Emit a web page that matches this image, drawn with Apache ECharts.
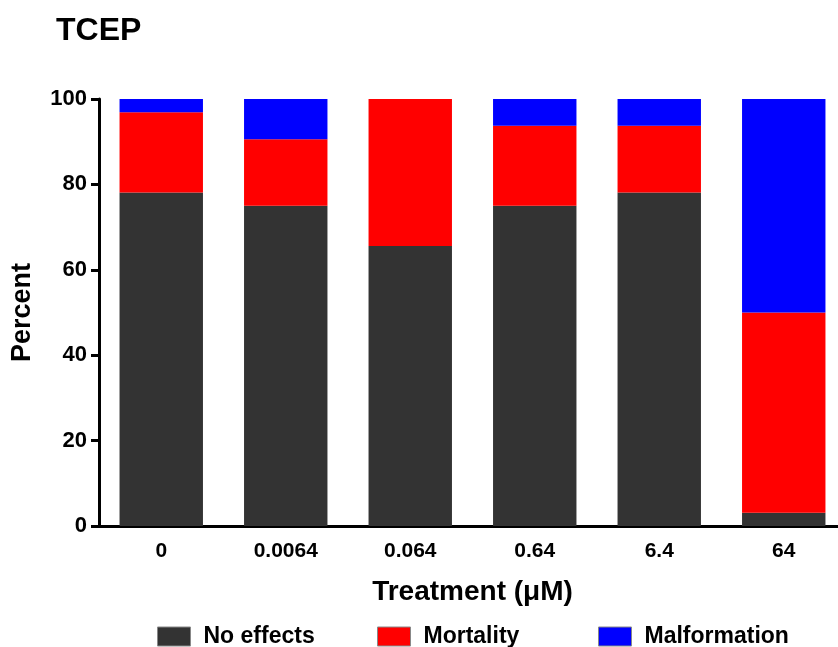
<!DOCTYPE html>
<html>
<head>
<meta charset="utf-8">
<script src="https://cdn.jsdelivr.net/npm/echarts@6/dist/echarts.min.js"></script>
<style>
  html, body { margin: 0; padding: 0; background: #fff; }
  #chart { width: 838px; height: 647px; }
</style>
</head>
<body>
<div id="chart"></div>
<script>
// treatment concentrations (µM)
const treatments = ['0', '0.0064', '0.064', '0.64', '6.4', '64'];
// percent of embryos per outcome
const noEffects = [78.1, 75.0, 65.6, 75.0, 78.1, 3.1];
const mortality = [18.8, 15.6, 34.4, 18.75, 15.65, 46.9];
const malformation = [3.1, 9.4, 0, 6.25, 6.25, 50.0];
const yTicks = [0, 20, 40, 60, 80, 100];
const legendNames = ['No effects', 'Mortality', 'Malformation'];

const chart = echarts.init(document.getElementById('chart'));
const font = 'Liberation Sans, Arial, sans-serif';

const barSeries = (name, data, color) => ({
  name: name, type: 'bar', stack: 'total', data: data,
  barWidth: '67%',
  itemStyle: { color: color },
  emphasis: { disabled: true }
});

// one legend block per item so each sits where the original has it
const legendLeft = [157, 377, 598];
const legends = legendNames.map((n, i) => ({
  left: legendLeft[i], top: 625, padding: 0,
  icon: 'rect', itemWidth: 33, itemHeight: 19,
  textStyle: { fontFamily: font, fontWeight: 'bold', fontSize: 23, color: '#000', padding: [0, 0, 0, 8] },
  data: [{ name: n, itemStyle: { borderColor: '#888', borderWidth: 1 } }]
}));

const option = {
  backgroundColor: '#ffffff',
  animation: false,
  title: {
    text: 'TCEP', left: 51, top: 10,
    textStyle: { fontFamily: font, fontWeight: 'bold', fontSize: 32, color: '#000' }
  },
  legend: legends,
  grid: { left: 99, right: -8, top: 99, bottom: 121, outerBoundsMode: 'none' },
  xAxis: {
    type: 'category', data: treatments,
    name: 'Treatment (μM)', nameLocation: 'middle', nameGap: 52,
    nameTextStyle: { fontFamily: font, fontWeight: 'bold', fontSize: 28, color: '#000' },
    axisLine: { lineStyle: { color: '#000', width: 3 } },
    axisTick: { alignWithLabel: true, length: 9, lineStyle: { width: 3, color: '#000' } },
    axisLabel: { margin: 15, fontFamily: font, fontWeight: 'bold', fontSize: 21, color: '#000' }
  },
  yAxis: {
    type: 'value', min: yTicks[0], max: yTicks[yTicks.length - 1], interval: 20,
    name: 'Percent', nameLocation: 'middle', nameGap: 63,
    nameTextStyle: { fontFamily: font, fontWeight: 'bold', fontSize: 27, color: '#000' },
    axisLine: { show: true, lineStyle: { color: '#000', width: 3 } },
    axisTick: { show: true, length: 8, lineStyle: { width: 3, color: '#000' } },
    axisLabel: { margin: 12, fontFamily: font, fontWeight: 'bold', fontSize: 22, color: '#000' },
    splitLine: { show: false }
  },
  series: [
    barSeries('No effects', noEffects, '#333333'),
    barSeries('Mortality', mortality, '#ff0000'),
    barSeries('Malformation', malformation, '#0000ff')
  ]
};
chart.setOption(option);
</script>
</body>
</html>
